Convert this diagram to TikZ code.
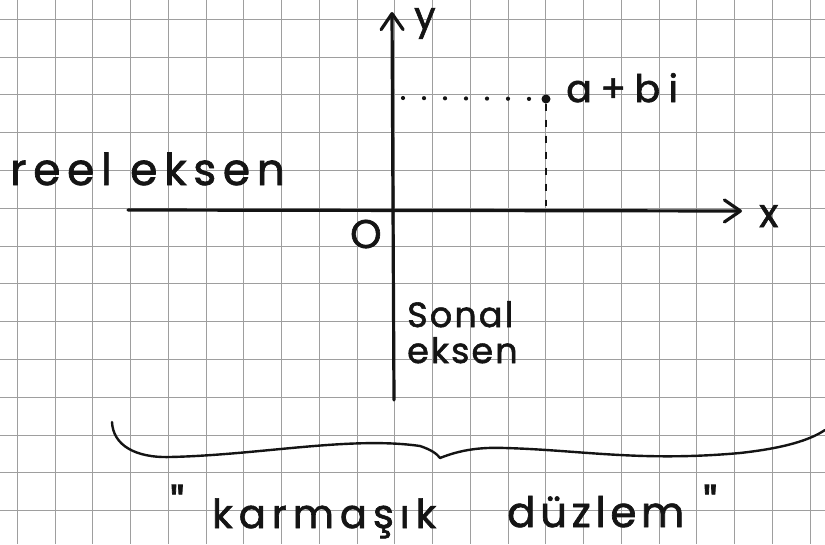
\documentclass[tikz,border=0pt]{standalone}
\usepackage{fontspec}
\newfontfamily\hand[FakeBold=1.6]{Poppins}
\usetikzlibrary{arrows.meta}
\begin{document}
\begin{tikzpicture}[x=1pt,y=-1pt,
  ink/.style={line width=3.2pt, line cap=round, line join=round, draw=black!92},
  lbl/.style={inner sep=0pt, anchor=base west, text=black!92},
  gridline/.style={draw=black!38, line width=1pt},
  tip/.style={-{Straight Barb[length=16pt,width=22pt,line cap=round,line join=round]}}]
\useasboundingbox (0,0) rectangle (825,544);
\fill[white] (0,0) rectangle (825,544);
% grid paper
\foreach \i in {0,...,21} \draw[gridline] ({17.3+37.75*\i},0) -- ({17.3+37.75*\i},544);
\foreach \j in {0,...,14} \draw[gridline] (0,{19.3+37.8*\j}) -- (825,{19.3+37.8*\j});
% axes
\coordinate (xs) at (128,210);
\coordinate (xe) at (742,211);
\coordinate (yb) at (394,400);
\coordinate (yt) at (392,12);
\draw[ink,tip] (xs) -- (xe);
\draw[ink,tip] (yb) -- (yt);
% point a+bi
\node[circle, fill=black!92, inner sep=0pt, minimum size=9pt] (P) at (546,99) {};
\coordinate (Py) at (403,98);
\coordinate (Px) at (546,206);
\draw[line width=4.2pt, line cap=round, dash pattern=on 0pt off 21pt, draw=black!92] (Py) -- (P);
\draw[line width=2.4pt, dash pattern=on 7pt off 9pt, draw=black!92] (P) -- (Px);
% labels
\node[lbl, font=\hand\fontsize{44}{46}\selectfont\addfontfeature{LetterSpace=15}] (reel) at (10,185) {reel eksen};
\node[lbl, font=\hand\fontsize{38}{40}\selectfont\addfontfeature{LetterSpace=22}] (abi) at (566,102) {a+bi};
\node[lbl, font=\hand\fontsize{38}{40}\selectfont] (ylab) at (414,29) {y};
\node[lbl, font=\hand\fontsize{40}{42}\selectfont] (xlab) at (759,227) {x};
\node[lbl, font=\hand\fontsize{40}{42}\selectfont] (O) at (350,248) {O};
\node[lbl, font=\hand\fontsize{35}{37}\selectfont\addfontfeature{LetterSpace=6}] (sonal) at (407,327) {Sonal};
\node[lbl, font=\hand\fontsize{35}{37}\selectfont\addfontfeature{LetterSpace=6}] (eksen) at (407,363) {eksen};
% brace
\coordinate (bl) at (112,422);
\coordinate (bm) at (440,458);
\coordinate (br) at (825,430);
\draw[line width=2.4pt, line cap=round, line join=round, draw=black!92]
  (bl) .. controls (113,445) and (135,458) .. (170,457)
       .. controls (260,455) and (350,436) .. (420,446)
       .. controls (432,450) and (437,454) .. (bm)
       .. controls (460,450) and (480,447) .. (505,448)
       .. controls (580,450) and (640,462) .. (740,453)
       .. controls (785,448) and (810,440) .. (br);
% bottom caption
\node[lbl, font=\hand\fontsize{48}{50}\selectfont] (q1) at (170,523) {"};
\node[lbl, font=\hand\fontsize{40}{42}\selectfont\addfontfeature{LetterSpace=15}] (karm) at (212,528) {karmaşık};
\node[lbl, font=\hand\fontsize{42}{44}\selectfont\addfontfeature{LetterSpace=11}] (duz) at (507,527) {düzlem};
\node[lbl, font=\hand\fontsize{48}{50}\selectfont] (q2) at (703,523) {"};
\end{tikzpicture}
\end{document}
